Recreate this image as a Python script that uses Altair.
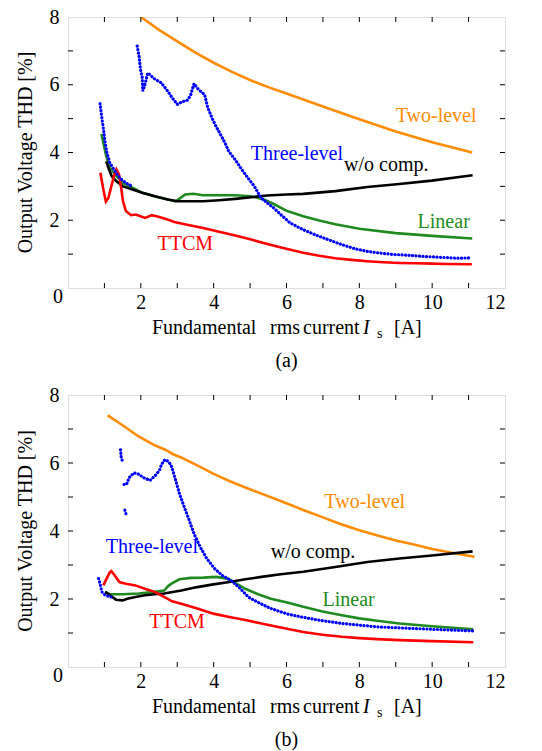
import altair as alt
import pandas as pd

# ---------------- panel (a) ----------------
a_two_x = [2.0, 2.5, 3.0, 3.5, 4.0, 4.5, 5.0, 5.5, 6.0, 7.0, 8.0, 9.0, 10.0, 11.1]
a_two_y = [8.0, 7.62, 7.28, 6.95, 6.65, 6.38, 6.14, 5.93, 5.74, 5.36, 4.98, 4.62, 4.3, 4.0]

a_three1_x = [0.88, 0.93, 0.98, 1.02, 1.07, 1.15, 1.29, 1.42, 1.59, 1.79]
a_three1_y = [5.44, 5.02, 4.63, 4.29, 3.99, 3.69, 3.45, 3.25, 3.10, 2.99]
a_three2_x = [1.90, 1.95, 1.99, 2.04, 2.05, 2.10, 2.19, 2.39, 2.56, 2.74, 2.87, 3.0, 3.14, 3.27,
              3.36, 3.46, 3.58, 3.75, 3.84, 3.97, 4.06, 4.24, 4.33, 4.41, 4.59, 4.77, 4.94, 5.12,
              5.30, 5.47, 5.65, 5.84, 6.1, 6.46, 6.81, 7.16, 7.52, 7.87, 8.22, 8.57, 8.93, 9.28,
              9.63, 9.99, 10.34, 10.69, 11.09]
a_three2_y = [7.14, 6.85, 6.45, 6.21, 5.81, 5.95, 6.35, 6.16, 6.06, 5.81, 5.60, 5.42, 5.50, 5.54,
              5.67, 6.03, 5.86, 5.71, 5.32, 4.98, 4.78, 4.43, 4.24, 4.04, 3.79, 3.50, 3.25, 3.0,
              2.66, 2.51, 2.36, 2.17, 1.92, 1.72, 1.56, 1.42, 1.28, 1.16, 1.08, 1.03, 0.99, 0.97,
              0.94, 0.92, 0.90, 0.88, 0.89]

a_lin_x = [0.92, 0.98, 1.05, 1.15, 1.33, 1.51, 1.77, 2.04, 2.39, 2.74, 2.96, 3.09, 3.22, 3.44,
           3.71, 4.15, 4.59, 5.03, 5.38, 5.65, 6.02, 6.46, 6.9, 7.34, 8.0, 9.0, 10.0, 11.1]
a_lin_y = [4.55, 4.24, 3.89, 3.55, 3.30, 3.10, 2.96, 2.81, 2.70, 2.61, 2.56, 2.66, 2.76, 2.78,
           2.74, 2.74, 2.74, 2.71, 2.61, 2.48, 2.27, 2.12, 1.99, 1.88, 1.75, 1.62, 1.54, 1.46]

a_wo_x = [1.05, 1.11, 1.2, 1.33, 1.51, 1.77, 2.04, 2.39, 2.74, 3.0, 3.27, 3.71, 4.15, 4.59,
          5.03, 5.47, 6.0, 6.46, 7.34, 8.22, 9.1, 9.99, 10.69, 11.11]
a_wo_y = [3.74, 3.55, 3.30, 3.15, 3.0, 2.91, 2.81, 2.71, 2.61, 2.56, 2.56, 2.56, 2.59, 2.63,
          2.68, 2.73, 2.76, 2.78, 2.86, 2.98, 3.07, 3.17, 3.27, 3.33]

a_ttcm_x = [0.89, 0.93, 0.98, 1.04, 1.11, 1.18, 1.26, 1.33, 1.40, 1.46, 1.51, 1.59, 1.73, 1.86,
            1.99, 2.12, 2.30, 2.43, 2.65, 2.92, 3.27, 3.71, 4.15, 4.59, 5.03, 5.47, 6.02, 6.46,
            6.9, 7.34, 7.78, 8.22, 8.66, 9.1, 9.55, 9.99, 10.43, 11.09]
a_ttcm_y = [3.40, 3.15, 2.86, 2.55, 2.66, 2.96, 3.30, 3.50, 3.35, 2.96, 2.56, 2.27, 2.15, 2.17,
            2.12, 2.07, 2.15, 2.12, 2.05, 1.95, 1.87, 1.77, 1.66, 1.55, 1.43, 1.30, 1.15, 1.04,
            0.95, 0.88, 0.83, 0.79, 0.76, 0.74, 0.73, 0.72, 0.71, 0.70]

# ---------------- panel (b) ----------------
b_two_x = [1.09, 1.5, 1.94, 2.38, 2.67, 2.9, 3.11, 3.55, 4.0, 4.43, 4.87, 5.31, 5.84, 6.46,
           7.0, 7.5, 8.0, 8.5, 9.0, 9.5, 10.0, 10.5, 11.16]
b_two_y = [7.40, 7.11, 6.78, 6.52, 6.39, 6.25, 6.16, 5.93, 5.68, 5.47, 5.28, 5.10, 4.88, 4.62,
           4.40, 4.20, 4.02, 3.87, 3.72, 3.60, 3.47, 3.37, 3.24]

b_three1_x = [0.84, 0.89, 0.93, 1.02, 1.15, 1.25]
b_three1_y = [2.60, 2.40, 2.21, 2.11, 2.06, 2.06]
b_three2_x = [1.44, 1.46, 1.50]
b_three2_y = [6.39, 6.18, 6.03]
b_three3_x = [1.56, 1.59]
b_three3_y = [4.61, 4.51]
b_three4_x = [1.54, 1.61, 1.68, 1.81, 1.94, 2.07, 2.25, 2.38, 2.51, 2.57, 2.66, 2.73, 2.82,
              2.89, 2.97, 3.06, 3.19, 3.33, 3.46, 3.63, 3.81, 4.03, 4.25, 4.47, 4.69, 4.96,
              5.22, 5.57, 6.02, 6.46, 6.99, 7.52, 8.0, 8.49, 9.1, 9.99, 11.13]
b_three4_y = [5.37, 5.37, 5.57, 5.71, 5.67, 5.57, 5.49, 5.61, 5.78, 5.96, 6.10, 6.06, 5.96,
              5.74, 5.44, 5.10, 4.71, 4.31, 3.92, 3.53, 3.19, 2.89, 2.68, 2.55, 2.35, 2.05,
              1.90, 1.72, 1.56, 1.46, 1.36, 1.28, 1.23, 1.18, 1.15, 1.11, 1.06]

b_lin_x = [1.02, 1.15, 1.5, 1.94, 2.38, 2.64, 2.75, 2.84, 3.06, 3.37, 3.72, 4.07, 4.38, 4.6,
           4.87, 5.22, 5.57, 6.02, 6.46, 6.99, 7.52, 8.0, 8.49, 9.1, 9.99, 11.13]
b_lin_y = [2.21, 2.14, 2.14, 2.16, 2.21, 2.25, 2.38, 2.45, 2.58, 2.62, 2.63, 2.65, 2.60, 2.47,
           2.30, 2.14, 2.01, 1.90, 1.77, 1.63, 1.52, 1.43, 1.36, 1.28, 1.20, 1.11]

b_wo_x = [1.02, 1.15, 1.32, 1.5, 1.63, 1.85, 2.11, 2.38, 2.64, 3.11, 3.55, 3.99, 4.43, 4.87,
          5.31, 5.84, 6.46, 7.34, 8.22, 9.10, 9.99, 11.11]
b_wo_y = [2.21, 2.11, 1.98, 1.96, 2.01, 2.06, 2.11, 2.14, 2.16, 2.25, 2.35, 2.43, 2.50, 2.58,
          2.65, 2.73, 2.80, 2.94, 3.09, 3.19, 3.28, 3.40]

b_ttcm_x = [0.97, 1.06, 1.15, 1.19, 1.28, 1.41, 1.59, 1.85, 2.11, 2.38, 2.64, 2.86, 3.11, 3.55,
            3.99, 4.43, 4.87, 5.31, 5.84, 6.46, 6.99, 7.52, 8.0, 8.49, 9.1, 9.99, 11.13]
b_ttcm_y = [2.40, 2.60, 2.79, 2.82, 2.70, 2.50, 2.45, 2.40, 2.30, 2.21, 2.06, 1.93, 1.86, 1.72,
            1.57, 1.47, 1.38, 1.28, 1.16, 1.03, 0.95, 0.89, 0.85, 0.82, 0.79, 0.76, 0.73]

# ---------------- labels / text ----------------
series_names = ["Two-level", "Three-level", "w/o comp.", "Linear", "TTCM"]
series_colors = ["#ff8c00", "#0000ff", "#000000", "#1f8a1f", "#ff0000"]

a_label_x = [9.0, 5.02, 7.58, 9.6, 2.46]
a_label_y = [5.07, 3.96, 3.63, 1.96, 1.31]
b_label_x = [7.04, 1.04, 5.57, 6.99, 2.23]
b_label_y = [4.86, 3.53, 3.39, 1.96, 1.32]

x_tick_labels = [2, 4, 6, 8, 10, 12]
y_tick_labels = [2, 4, 6, 8]
x_minor = [1, 2, 3, 4, 5, 6, 7, 8, 9, 10, 11]
y_minor = [1, 2, 3, 4, 5, 6, 7]

y_title = "Output Voltage THD [%]"
x_title_words = ["Fundamental", "rms", "current"]
x_title_sym = "I"
x_title_sub = "s"
x_title_unit = "[A]"
captions = ["(a)", "(b)"]
corner_zero = "0"

FONT = "Liberation Serif"
FS = 20
W = 437
H = 271


def rows(series, seg, xs, ys):
    return [{"series": series, "seg": series + str(seg), "x": x, "y": y} for x, y in zip(xs, ys)]


df_a = pd.DataFrame(
    rows("Two-level", 1, a_two_x, a_two_y)
    + rows("Three-level", 1, a_three1_x, a_three1_y)
    + rows("Three-level", 2, a_three2_x, a_three2_y)
    + rows("Linear", 1, a_lin_x, a_lin_y)
    + rows("w/o comp.", 1, a_wo_x, a_wo_y)
    + rows("TTCM", 1, a_ttcm_x, a_ttcm_y)
)
df_b = pd.DataFrame(
    rows("Two-level", 1, b_two_x, b_two_y)
    + rows("Three-level", 1, b_three1_x, b_three1_y)
    + rows("Three-level", 2, b_three2_x, b_three2_y)
    + rows("Three-level", 3, b_three3_x, b_three3_y)
    + rows("Three-level", 4, b_three4_x, b_three4_y)
    + rows("Linear", 1, b_lin_x, b_lin_y)
    + rows("w/o comp.", 1, b_wo_x, b_wo_y)
    + rows("TTCM", 1, b_ttcm_x, b_ttcm_y)
)
lab_a = pd.DataFrame({"series": series_names, "x": a_label_x, "y": a_label_y})
lab_b = pd.DataFrame({"series": series_names, "x": b_label_x, "y": b_label_y})

xs = alt.Scale(domain=[0, 12], nice=False, zero=False)
ys = alt.Scale(domain=[0, 8], nice=False, zero=False)
cs = alt.Scale(domain=series_names, range=series_colors)

x_axis = alt.Axis(values=x_tick_labels, ticks=False, domain=False, grid=False, title=None,
                  labelFont=FONT, labelFontSize=FS, labelColor="black", labelPadding=4)
y_axis = alt.Axis(values=y_tick_labels, ticks=False, domain=False, grid=False, title=None,
                  labelFont=FONT, labelFontSize=FS, labelColor="black", labelPadding=9)


def panel(df, lab, caption, h):
    X = lambda f: alt.X(f, type="quantitative", scale=xs, axis=x_axis)
    Y = lambda f: alt.Y(f, type="quantitative", scale=ys, axis=y_axis)
    base = alt.Chart(df)
    others = base.transform_filter(alt.datum.series != "Three-level").mark_line(
        strokeWidth=2.6, clip=True
    ).encode(x=X("x"), y=Y("y"), color=alt.Color("series:N", scale=cs, legend=None),
             detail="seg:N")
    three = base.transform_filter(alt.datum.series == "Three-level").mark_line(
        strokeWidth=3.2, strokeCap="round", strokeDash=[0.1, 3.4], clip=True
    ).encode(x=X("x"), y=Y("y"), color=alt.Color("series:N", scale=cs, legend=None),
             detail="seg:N")
    labels = alt.Chart(lab).mark_text(
        align="left", baseline="middle", font=FONT, fontSize=FS
    ).encode(x=X("x"), y=Y("y"), text="series:N",
             color=alt.Color("series:N", scale=cs, legend=None))

    xt = alt.Chart(pd.DataFrame({"t": x_minor})).mark_rule(color="black", strokeWidth=1)
    yt = alt.Chart(pd.DataFrame({"t": y_minor})).mark_rule(color="black", strokeWidth=1)
    tb = xt.encode(x=X("t"), y=alt.value(h), y2=alt.value(h - 5))
    tt = xt.encode(x=X("t"), y=alt.value(0), y2=alt.value(5))
    tl = yt.encode(y=Y("t"), x=alt.value(0), x2=alt.value(5))
    tr = yt.encode(y=Y("t"), x=alt.value(W), x2=alt.value(W - 5))

    items = [y_title] + x_title_words + [x_title_sym, x_title_sub, x_title_unit,
                                          caption, corner_zero]
    txt = pd.DataFrame({"t": items})

    def T(i, **kw):
        return alt.Chart(txt).transform_filter(alt.datum.t == items[i]).mark_text(
            font=FONT, color="black", **kw)

    layers = [
        T(0, angle=270, fontSize=FS, baseline="middle", align="center").encode(
            text="t:N", x=alt.value(-42), y=alt.value(h / 2)),
        T(1, fontSize=FS, baseline="alphabetic", align="left").encode(
            text="t:N", x=alt.value(84), y=alt.value(h + 46)),
        T(2, fontSize=FS, baseline="alphabetic", align="left").encode(
            text="t:N", x=alt.value(202), y=alt.value(h + 46)),
        T(3, fontSize=FS, baseline="alphabetic", align="left").encode(
            text="t:N", x=alt.value(235), y=alt.value(h + 46)),
        T(4, fontSize=FS, baseline="alphabetic", align="left", fontStyle="italic").encode(
            text="t:N", x=alt.value(295), y=alt.value(h + 46)),
        T(5, fontSize=14, baseline="alphabetic", align="left").encode(
            text="t:N", x=alt.value(309), y=alt.value(h + 50)),
        T(6, fontSize=FS, baseline="alphabetic", align="left").encode(
            text="t:N", x=alt.value(326), y=alt.value(h + 46)),
        T(7, fontSize=FS, baseline="middle", align="center").encode(
            text="t:N", x=alt.value(W / 2), y=alt.value(h + 73)),
        T(8, fontSize=FS, baseline="middle", align="right").encode(
            text="t:N", x=alt.value(-5), y=alt.value(h + 9)),
    ]

    return alt.layer(others, three, labels, tb, tt, tl, tr, *layers).properties(
        width=W, height=h)


chart = alt.vconcat(
    panel(df_a, lab_a, captions[0], H),
    panel(df_b, lab_b, captions[1], H + 1),
    spacing=12,
).properties(
    padding={"left": 15, "top": 6, "right": 5, "bottom": 0}
).configure_view(stroke="black", strokeWidth=1.2).configure(background="white")

chart.save("out.html", embed_options={"renderer": "svg", "actions": False})
